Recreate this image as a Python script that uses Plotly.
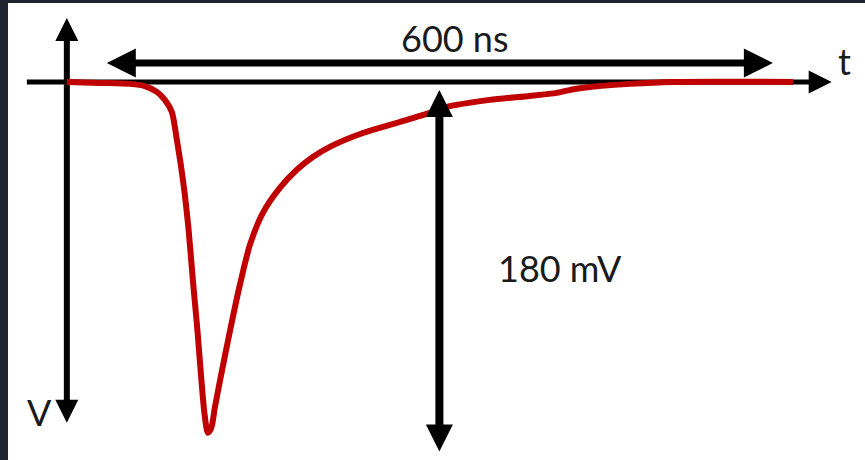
import math
import plotly.graph_objects as go

# Detector pulse: time after trigger (ns) and signal voltage (mV)
t_ns = [0, 29.7, 56.8, 70.3, 81.1, 88.3, 94.6, 99.1, 102.7, 106.3, 109.7, 113.5, 117.6,
        121.2, 123.9, 127.0, 130.2, 133.3, 137.8, 146.8, 155.9, 164.9, 176.6,
        191.9, 207.2, 221.6, 236.9, 266.7, 297.3, 327.0, 342.3, 381.1, 417.1,
        441.4, 457.7, 471.2, 507.2, 545.9, 654.1]
v_mv = [0, -0.5, -1.0, -2.1, -5.1, -9.2, -15.4, -29.7, -42.6, -57.9, -75.9, -101.5, -127.2,
        -152.8, -169.7, -180.0, -177.4, -167.2, -153.8, -128.2, -104.1, -83.6, -67.2,
        -54.4, -45.1, -38.5, -33.3, -26.2, -21.0, -15.9, -12.8, -9.2, -7.2,
        -5.6, -3.6, -2.6, -1.0, 0, 0]

width_label = "600 ns"
depth_label = "180 mV"
pulse_width_ns = 600
pulse_depth_mv = 180

W, H = 865, 460
MARGIN_L, MARGIN_T = 8, 3
PLOT_W, PLOT_H = W - MARGIN_L, H - MARGIN_T
T_RANGE = [-53.0, 719.0]
V_RANGE = [-194.0, 40.5]
PX_T = PLOT_W / (T_RANGE[1] - T_RANGE[0])
PX_V = PLOT_H / (V_RANGE[1] - V_RANGE[0])

INK = "#000000"
RED = "#c00000"
FONT = dict(family="Lato, 'Open Sans', sans-serif", size=36, color="#1a1a1a")

fig = go.Figure()


def add_arrow(x0, y0, x1, y1, width, head, both=False):
    """Straight arrow from (x0, y0) to (x1, y1) with a filled head at the end
    (and at the start when both=True). Head size is in pixels."""
    dx, dy = (x1 - x0) * PX_T, (y1 - y0) * PX_V
    length = math.hypot(dx, dy)
    ux, uy = dx / length, dy / length
    cut = head * 0.5
    ex, ey = x1 - ux * cut / PX_T, y1 - uy * cut / PX_V
    sx, sy = (x0 + ux * cut / PX_T, y0 + uy * cut / PX_V) if both else (x0, y0)
    fig.add_trace(go.Scatter(x=[sx, ex], y=[sy, ey], mode="lines",
                             line=dict(color=INK, width=width),
                             hoverinfo="skip"))

    def symbol(forward):
        if abs(dx) >= abs(dy):
            return "arrow-right" if (dx > 0) == forward else "arrow-left"
        return "arrow-up" if (dy > 0) == forward else "arrow-down"

    xs, ys, syms = [x1], [y1], [symbol(True)]
    if both:
        xs.append(x0)
        ys.append(y0)
        syms.append(symbol(False))
    fig.add_trace(go.Scatter(x=xs, y=ys, mode="markers",
                             marker=dict(symbol=syms, size=head, color=INK,
                                         line=dict(width=0)),
                             hoverinfo="skip"))


# Axes: time to the right, voltage (negative) downwards
add_arrow(-36, 0, 689, 0, width=5, head=23)
add_arrow(0, -174.9, 0, 32.8, width=6, head=23, both=True)

# Pulse trace
fig.add_trace(go.Scatter(x=t_ns, y=v_mv, mode="lines",
                         line=dict(color=RED, width=6, shape="spline", smoothing=0.7),
                         hoverinfo="skip"))

# Dimension arrows: pulse length and pulse amplitude
w_start = 36
add_arrow(w_start, 9.7, w_start + pulse_width_ns, 9.7, width=7, head=29, both=True)
add_arrow(335.6, -4.1, 335.6, -4.1 - pulse_depth_mv - 5.6, width=8, head=27, both=True)

annotations = [
    dict(x=349.5, y=22.6, text=width_label),
    dict(x=444, y=-95.4, text=depth_label),
    dict(x=-24.3, y=-169.2, text="V"),
    dict(x=700.9, y=10.8, text="t"),
]
for a in annotations:
    a.update(xref="x", yref="y", showarrow=False, font=FONT,
             xanchor="center", yanchor="middle")

fig.update_layout(
    width=W, height=H,
    margin=dict(l=MARGIN_L, t=MARGIN_T, r=0, b=0, pad=0),
    paper_bgcolor="#1e2430",
    plot_bgcolor="#ffffff",
    showlegend=False,
    xaxis=dict(range=T_RANGE, visible=False, fixedrange=True),
    yaxis=dict(range=V_RANGE, visible=False, fixedrange=True),
    annotations=annotations,
)

fig.write_html("out.html", config={"displayModeBar": False})
